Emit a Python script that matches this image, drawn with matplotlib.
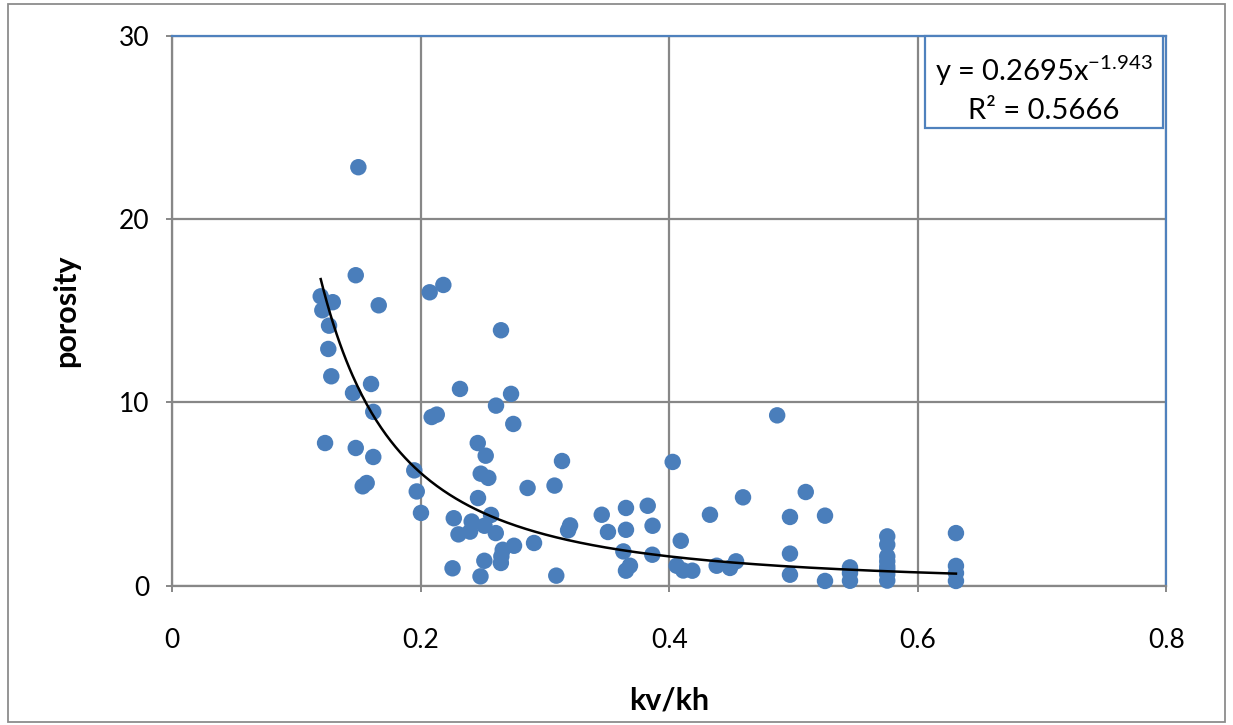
import numpy as np
import matplotlib
matplotlib.use("Agg")
import matplotlib.pyplot as plt
from matplotlib.patches import Rectangle

plt.rcParams['font.family'] = ['Lato', 'DejaVu Sans']
plt.rcParams['mathtext.fontset'] = 'custom'
plt.rcParams['mathtext.rm'] = 'Lato'
plt.rcParams['mathtext.it'] = 'Lato'

# ---- data ----
kv_kh = [
    0.1498, 0.1477, 0.2072, 0.2182, 0.1195, 0.1292, 0.1208, 0.1662, 0.1262, 0.2646,
    0.1256, 0.1280, 0.1600, 0.1455, 0.2316, 0.2727, 0.2606, 0.1618, 0.2088, 0.2129,
    0.2745, 0.1230, 0.1477, 0.1618, 0.2459, 0.2523, 0.1948, 0.1968, 0.1565, 0.1533,
    0.2483, 0.2544, 0.2860, 0.3077, 0.3137, 0.2002, 0.2461, 0.2566, 0.2266, 0.2410,
    0.2397, 0.2513, 0.2304, 0.2604, 0.2751, 0.2912, 0.2660, 0.2649, 0.2645, 0.2512,
    0.2256, 0.2481, 0.3091, 0.3457, 0.3652, 0.3827, 0.3866, 0.3507, 0.3652, 0.3202,
    0.3186, 0.4028, 0.4328, 0.4093, 0.3631, 0.3864, 0.3684, 0.3652, 0.4060, 0.4113,
    0.4186, 0.4382, 0.4489, 0.4538, 0.4594, 0.4869, 0.5099, 0.4972, 0.4972, 0.4972,
    0.5254, 0.5254, 0.5455, 0.5455, 0.5455,
    0.5755, 0.5755, 0.5755, 0.5755, 0.5755, 0.5755, 0.5755, 0.5755,
    0.6308, 0.6308, 0.6308, 0.6308,
]
porosity = [
    22.82, 16.93, 16.00, 16.40, 15.78, 15.46, 15.02, 15.29, 14.18, 13.93,
    12.91, 11.42, 11.00, 10.51, 10.73, 10.46, 9.82, 9.48, 9.20, 9.33,
    8.82, 7.78, 7.51, 7.02, 7.78, 7.09, 6.29, 5.14, 5.60, 5.42,
    6.11, 5.88, 5.33, 5.46, 6.80, 3.97, 4.78, 3.86, 3.68, 3.50,
    2.95, 3.27, 2.80, 2.87, 2.18, 2.33, 1.96, 1.60, 1.24, 1.36,
    0.95, 0.51, 0.55, 3.87, 4.24, 4.36, 3.27, 2.93, 3.05, 3.29,
    3.02, 6.75, 3.87, 2.45, 1.87, 1.69, 1.09, 0.82, 1.09, 0.83,
    0.82, 1.09, 0.97, 1.33, 4.82, 9.29, 5.11, 3.75, 1.75, 0.60,
    3.82, 0.26, 1.00, 0.69, 0.27,
    2.69, 2.24, 1.60, 1.33, 1.05, 0.87, 0.62, 0.28,
    2.87, 1.08, 0.69, 0.26,
]
fit_a = 0.2695
fit_b = -1.943
fit_r2 = 0.5666
x_ticks = [0, 0.2, 0.4, 0.6, 0.8]
x_tick_labels = ["0", "0.2", "0.4", "0.6", "0.8"]
y_ticks = [0, 10, 20, 30]
y_tick_labels = ["0", "10", "20", "30"]

grey = '#878787'
blue = '#4F81BD'
pt_color = '#4A7EBB'

fig = plt.figure(figsize=(12.33, 7.25), dpi=100)
fig.patch.set_facecolor('white')
fig.patches.append(Rectangle((8/1233, 3/725), 1217/1233, 718/725, transform=fig.transFigure,
                             fill=False, edgecolor='#8C8C8C', linewidth=1.3))

ax = fig.add_axes([0.1397, 0.1921, 0.8061, 0.7589])
ax.set_xlim(0, 0.8)
ax.set_ylim(0, 30)
ax.set_xticks(x_ticks)
ax.set_xticklabels(x_tick_labels)
ax.set_yticks(y_ticks)
ax.set_yticklabels(y_tick_labels)
ax.grid(True, color=grey, linewidth=1.6)
ax.set_axisbelow(True)
for s in ['left', 'bottom']:
    ax.spines[s].set_color(grey)
    ax.spines[s].set_linewidth(1.6)
for s in ['top', 'right']:
    ax.spines[s].set_color(blue)
    ax.spines[s].set_linewidth(1.6)
ax.tick_params(axis='both', direction='out', length=4.5, width=1.4, color=grey,
               labelsize=19, labelcolor='black')
ax.tick_params(axis='x', pad=26)
ax.tick_params(axis='y', pad=12)

ax.scatter(kv_kh, porosity, s=140, color=pt_color, edgecolors='none', zorder=3, clip_on=False)

xs = np.linspace(min(kv_kh), max(kv_kh), 400)
ax.plot(xs, fit_a * xs ** fit_b, color='black', linewidth=1.8, zorder=4)

ax.set_xlabel('kv/kh', fontsize=22, fontweight='bold', labelpad=24)
ax.set_ylabel('porosity', fontsize=22, fontweight='bold', labelpad=28)

ax.add_patch(Rectangle((0.7574, 0.832), 0.2394, 0.168, transform=ax.transAxes,
                       facecolor='white', edgecolor=blue, linewidth=1.6, zorder=5, clip_on=False))
ax.text(0.877, 0.935, r'y = 0.2695x$^{\mathregular{-1.943}}$', transform=ax.transAxes,
        ha='center', va='center', fontsize=21, zorder=6)
ax.text(0.877, 0.862, 'R² = 0.5666', transform=ax.transAxes,
        ha='center', va='center', fontsize=21, zorder=6)

fig.savefig('out.png', dpi=100)
